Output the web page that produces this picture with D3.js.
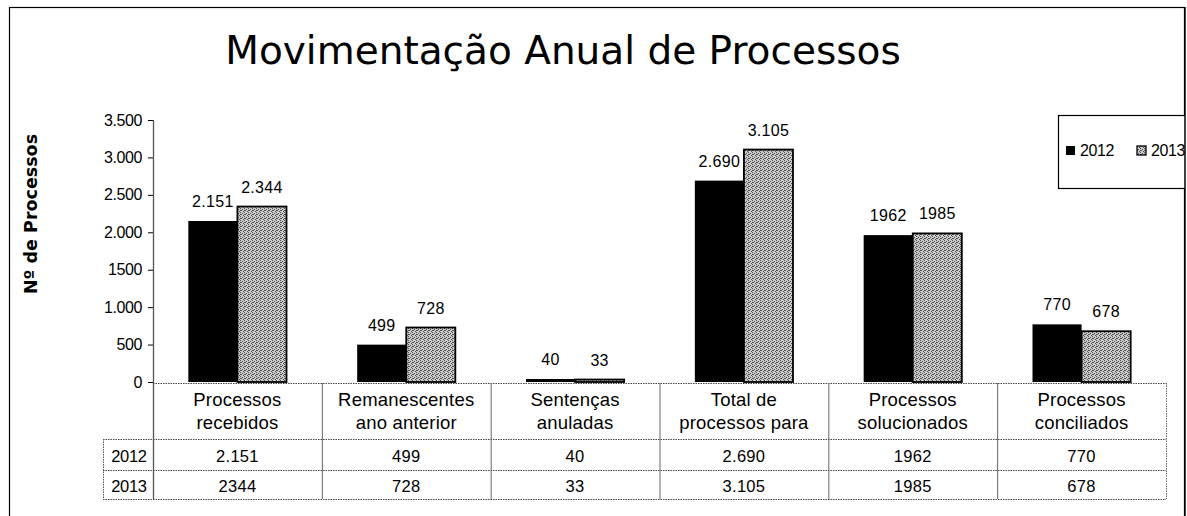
<!DOCTYPE html>
<html>
<head>
<meta charset="utf-8">
<script src="https://cdn.jsdelivr.net/npm/d3@7/dist/d3.min.js"></script>
<style>
  body { margin: 0; background: #fff; }
  text { font-family: "Liberation Sans", Arial, sans-serif; }
</style>
</head>
<body>
<svg width="1187" height="516"></svg>
<script>
// data
const categories = [
  ["Processos", "recebidos"],
  ["Remanescentes", "ano anterior"],
  ["Sentenças", "anuladas"],
  ["Total de", "processos para"],
  ["Processos", "solucionados"],
  ["Processos", "conciliados"]
];
const years = ["2012", "2013"];
const values2012 = [2151, 499, 40, 2690, 1962, 770];
const values2013 = [2344, 728, 33, 3105, 1985, 678];
const labels2012 = ["2.151", "499", "40", "2.690", "1962", "770"];
const labels2013 = ["2.344", "728", "33", "3.105", "1985", "678"];
const table2012 = ["2.151", "499", "40", "2.690", "1962", "770"];
const table2013 = ["2344", "728", "33", "3.105", "1985", "678"];
const yTicks = [0, 500, 1000, 1500, 2000, 2500, 3000, 3500];
const yTickLabels = ["0", "500", "1.000", "1500", "2.000", "2.500", "3.000", "3.500"];

const svg = d3.select("svg");

// layout
const plotLeft = 153, plotRight = 1166;
const plotTop = 120, plotBottom = 382;
const tableTop = 383, rowA = 439, rowB = 470, tableBottom = 499;
const stubLeft = 103;

// gray dither pattern for 2013
const defs = svg.append("defs");
const pat = defs.append("pattern")
  .attr("id", "dots")
  .attr("width", 4).attr("height", 4)
  .attr("patternUnits", "userSpaceOnUse");
pat.append("rect").attr("width", 4).attr("height", 4).attr("fill", "#c8c8c8");
[[0,0],[2,1],[1,2],[3,3],[0,2]].forEach(p => {
  pat.append("rect").attr("x", p[0]).attr("y", p[1])
    .attr("width", 1).attr("height", 1).attr("fill", "#555");
});

// outer frame
svg.append("rect")
  .attr("x", 9.5).attr("y", 7.5)
  .attr("width", 1175).attr("height", 520)
  .attr("fill", "none").attr("stroke", "#000").attr("stroke-width", 1.2);

// title
svg.append("text")
  .attr("x", 563).attr("y", 64)
  .attr("text-anchor", "middle")
  .style("font-family", "DejaVu Sans")
  .attr("font-size", "39px")
  .text("Movimentação Anual de Processos");

// y title
svg.append("text")
  .attr("transform", "translate(37, 214) rotate(-90)")
  .attr("text-anchor", "middle")
  .style("font-family", "DejaVu Sans")
  .attr("font-size", "17.5px")
  .attr("font-weight", "bold")
  .text("Nº de Processos");

// scales
const x = d3.scaleBand()
  .domain(d3.range(categories.length))
  .range([plotLeft, plotRight])
  .padding(0);

const xs = d3.scaleBand()
  .domain(years)
  .range([0, x.bandwidth()])
  .paddingInner(0)
  .paddingOuter(0.72);

const y = d3.scaleLinear()
  .domain([0, 3500])
  .range([plotBottom, plotTop]);

// y axis
const yAxis = svg.append("g")
  .attr("transform", `translate(${plotLeft}, 0)`)
  .call(d3.axisLeft(y)
    .tickValues(yTicks)
    .tickFormat((d, i) => yTickLabels[i])
    .tickSize(5)
    .tickSizeOuter(0));
yAxis.select(".domain").remove();
yAxis.selectAll("line").attr("stroke", "#000");
yAxis.selectAll("text")
  .attr("font-size", "16px")
  .attr("letter-spacing", "-0.4px")
  .attr("font-family", null)
  .attr("x", -11)
  .attr("fill", "#000");

// axis line running down through the table
svg.append("line")
  .attr("x1", plotLeft + 0.5).attr("x2", plotLeft + 0.5)
  .attr("y1", plotTop).attr("y2", tableBottom)
  .attr("stroke", "#555").attr("stroke-width", 1.3);

// bars
const seriesData = [
  { year: "2012", values: values2012, labels: labels2012 },
  { year: "2013", values: values2013, labels: labels2013 }
];

seriesData.forEach(s => {
  const g = svg.append("g");
  g.selectAll("rect")
    .data(s.values)
    .enter().append("rect")
    .attr("x", (d, i) => x(i) + xs(s.year))
    .attr("y", d => y(d))
    .attr("width", xs.bandwidth())
    .attr("height", d => y(0) - y(d))
    .attr("fill", s.year === "2012" ? "#000" : "url(#dots)")
    .attr("stroke", "#000")
    .attr("stroke-width", s.year === "2012" ? 0 : 1.8);

  g.selectAll("text")
    .data(s.values)
    .enter().append("text")
    .attr("x", (d, i) => x(i) + xs(s.year) + xs.bandwidth() / 2)
    .attr("y", d => y(d) - 14)
    .attr("text-anchor", "middle")
    .attr("font-size", "16px")
    .attr("letter-spacing", "0.3px")
    .text((d, i) => s.labels[i]);
});

// category table
function hline(x1, x2, yy) {
  svg.append("line")
    .attr("x1", x1).attr("x2", x2)
    .attr("y1", yy + 0.5).attr("y2", yy + 0.5)
    .attr("stroke", "#444").attr("stroke-width", 1)
    .attr("stroke-dasharray", "1.5,1");
}
hline(plotLeft, plotRight, tableTop);
hline(stubLeft, plotRight, rowA);
hline(stubLeft, plotRight, rowB);
hline(stubLeft, plotRight, tableBottom);

svg.append("line")
  .attr("x1", stubLeft + 0.5).attr("x2", stubLeft + 0.5)
  .attr("y1", rowA).attr("y2", tableBottom)
  .attr("stroke", "#555").attr("stroke-dasharray", "1.5,1");

d3.range(1, categories.length + 1).forEach(i => {
  const xx = i < categories.length ? x(i) : plotRight;
  svg.append("line")
    .attr("x1", xx + 0.5).attr("x2", xx + 0.5)
    .attr("y1", tableTop).attr("y2", tableBottom)
    .attr("stroke", "#666").attr("stroke-width", 1)
    .attr("stroke-dasharray", i === categories.length ? "1.5,1" : null);
});

// category labels
categories.forEach((c, i) => {
  const cx = x(i) + x.bandwidth() / 2;
  const t = svg.append("text")
    .attr("text-anchor", "middle")
    .attr("font-size", "18.5px")
    .attr("letter-spacing", "0.2px");
  t.append("tspan").attr("x", cx).attr("y", 406).text(c[0]);
  t.append("tspan").attr("x", cx).attr("y", 429).text(c[1]);
});

// table values
[table2012, table2013].forEach((row, r) => {
  const yy = r === 0 ? rowA + 23 : rowB + 22;
  svg.append("text")
    .attr("x", 129).attr("y", yy)
    .attr("text-anchor", "middle")
    .attr("font-size", "16.5px")
    .attr("letter-spacing", "-0.3px")
    .text(years[r]);
  row.forEach((v, i) => {
    svg.append("text")
      .attr("x", x(i) + x.bandwidth() / 2)
      .attr("y", yy)
      .attr("text-anchor", "middle")
      .attr("font-size", "16.5px")
      .attr("letter-spacing", "0.3px")
      .text(v);
  });
});

// legend
const legend = svg.append("g");
legend.append("rect")
  .attr("x", 1058.5).attr("y", 115.5)
  .attr("width", 130).attr("height", 73)
  .attr("fill", "#fff").attr("stroke", "#000").attr("stroke-width", 1.2);
const legX = [1066, 1137];
years.forEach((yr, i) => {
  legend.append("rect")
    .attr("x", legX[i]).attr("y", 146)
    .attr("width", 9).attr("height", 9)
    .attr("fill", i === 0 ? "#000" : "url(#dots)")
    .attr("stroke", "#000").attr("stroke-width", i === 0 ? 0 : 1.3);
  legend.append("text")
    .attr("x", legX[i] + 14).attr("y", 156)
    .attr("font-size", "16px")
    .attr("letter-spacing", "-0.4px")
    .text(yr);
});
// frame clips legend on the right
svg.append("rect")
  .attr("x", 1185).attr("y", 0).attr("width", 2).attr("height", 516)
  .attr("fill", "#fff");
svg.append("line")
  .attr("x1", 1185).attr("x2", 1185).attr("y1", 7).attr("y2", 516)
  .attr("stroke", "#000").attr("stroke-width", 1.5);
</script>
</body>
</html>
